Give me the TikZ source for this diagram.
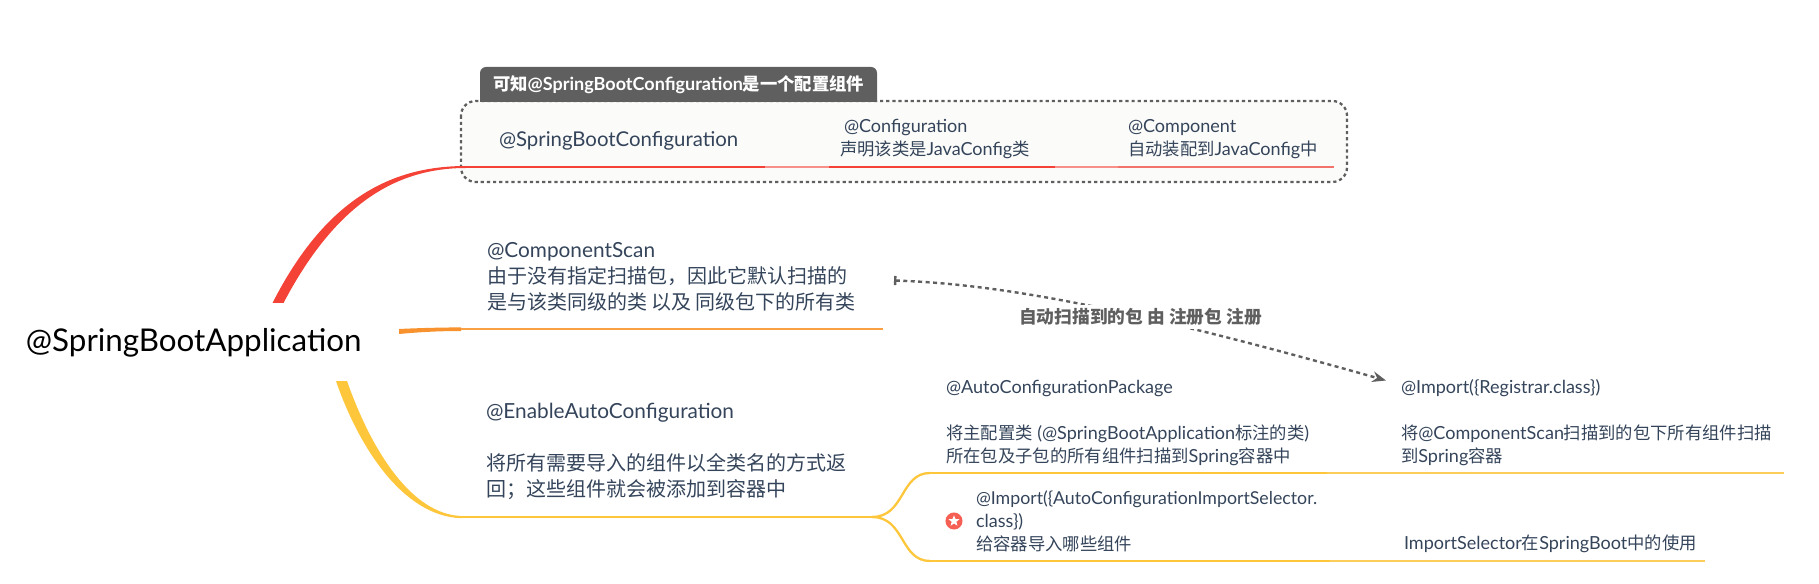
\documentclass[tikz,border=0pt]{standalone}
\usepackage{fontspec}
\usepackage{xcolor}
\setmainfont[Scale=1.04]{Lato}
\newfontfamily\cjk{Noto Sans CJK SC}
\usetikzlibrary{arrows.meta}
\usetikzlibrary{calc}
\usetikzlibrary{shapes.geometric}
\definecolor{topicink}{HTML}{34445A}
\definecolor{tabgrey}{HTML}{5F5F5F}
\definecolor{framefill}{HTML}{FBFBF9}
\definecolor{mapred}{HTML}{F44336}
\definecolor{lightred}{HTML}{F88F88}
\definecolor{thinred}{HTML}{F2736C}
\definecolor{maporange}{HTML}{F8922E}
\definecolor{lightorange}{HTML}{FB9F45}
\definecolor{mapyellow}{HTML}{FDC63B}
\definecolor{lightyellow}{HTML}{FDCD5A}
\tikzset{
  every node/.style = {inner sep=0pt, outer sep=0pt, text=topicink, align=left, anchor=west}
}
\tikzset{
  topic one/.style = {font=\fontsize{15}{19.5}\selectfont},
  topic two/.style = {font=\fontsize{13}{17.25}\selectfont},
  under line/.style = {line width=1.7pt},
  thin line/.style = {line width=1.1pt},
  relation/.style = {draw=tabgrey, line width=1.8pt, dash pattern=on 3pt off 2.6pt}
}
\tikzset{
    >={Stealth[length=3.6mm, width=2.8mm]}
}
\newcommand{\zh}[1]{{\cjk #1}}
\begin{document}
\begin{tikzpicture}[x=0.75pt, y=-0.75pt]
  \useasboundingbox (0,0) rectangle (1819,584);

  \coordinate (redStart) at (278,303);
  \coordinate (redEnd) at (466,167);
  \coordinate (orangeStart) at (399,331.5);
  \coordinate (orangeEnd) at (461,329);
  \coordinate (yellowStart) at (341.5,381);
  \coordinate (yellowEnd) at (461,517);
  \coordinate (forkPoint) at (872,517);
  \coordinate (packEnd) at (930,473);
  \coordinate (importEnd) at (930,561);

  % frame and its tab
  \draw[tabgrey, fill=framefill, line width=1.7pt, dash pattern=on 2.4pt off 2.2pt, rounded corners=11pt]
    (461,101) rectangle (1347,182);
  \fill[tabgrey] (480,102) [rounded corners=4.5pt] -- (480,67) -- (877,67) [sharp corners] -- (877,102) -- cycle;
  \node[text=white, font=\fontsize{13}{15}\selectfont\bfseries] (tabLabel) at (493,85)
    {\zh{可知}@SpringBootConfiguration\zh{是一个配置组件}};

  % main branches
  \fill[mapred] ($(redStart)+(-5.5,0)$) .. controls (325,200) and (390,166) .. ($(redEnd)+(0,-1)$)
    -- ($(redEnd)+(0,1)$) .. controls (395,168) and (335,205) .. ($(redStart)+(5.5,0)$) -- cycle;
  \fill[maporange] ($(orangeStart)+(0,-2.5)$) .. controls (420,328) and (440,327.5) .. ($(orangeEnd)+(0,-1.6)$)
    -- ($(orangeEnd)+(0,2)$) .. controls (440,331) and (420,332) .. ($(orangeStart)+(0,2.5)$) -- cycle;
  \fill[mapyellow] ($(yellowStart)+(-5.5,0)$) .. controls (358,445) and (402,516) .. ($(yellowEnd)+(0,1.2)$)
    -- ($(yellowEnd)+(0,-1)$) .. controls (412,514) and (372,452) .. ($(yellowStart)+(5.5,0)$) -- cycle;

  % lines under the topics
  \draw[under line, mapred] (redEnd) -- (765,167);
  \draw[under line, lightred] (765,167) -- (829,167);
  \draw[under line, mapred] (829,167) -- (1055,167);
  \draw[under line, lightred] (1055,167) -- (1118,167);
  \draw[thin line, thinred] (1118,167) -- (1334,167);
  \draw[under line, lightorange] (orangeEnd) -- (883,329);
  \draw[under line, mapyellow] (yellowEnd) -- (forkPoint);
  \draw[under line, mapyellow] (forkPoint) .. controls (905,517) and (900,473) .. (packEnd);
  \draw[under line, mapyellow] (forkPoint) .. controls (905,517) and (900,561) .. (importEnd);
  \draw[under line, mapyellow] (packEnd) -- (1327,473);
  \draw[thin line, lightyellow] (1327,473) -- (1784,473);
  \draw[under line, mapyellow] (importEnd) -- (1330,561);
  \draw[thin line, lightyellow] (1330,561) -- (1705,561);

  % texts
  \node[text=black, font=\fontsize{22.6}{26}\selectfont] (rootTopic) at (26,343) {@SpringBootApplication};

  \node[font=\fontsize{14.7}{17}\selectfont] (bootConf) at (499,141) {@SpringBootConfiguration};
  \node[topic two] (confTopic) at (840,139)
    {\hspace*{3pt}@Configuration\\\zh{声明该类是}JavaConfig\zh{类}};
  \node[topic two] (compTopic) at (1128,139)
    {@Component\\\zh{自动装配到}JavaConfig\zh{中}};
  \node[topic one] (scanTopic) at (487,277)
    {@ComponentScan\\\zh{由于没有指定扫描包，因此它默认扫描的}\\\zh{是与该类同级的类 以及 同级包下的所有类}};
  \node[topic one] (enableTopic) at (486,451)
    {@EnableAutoConfiguration\\[19.5pt]\zh{将所有需要导入的组件以全类名的方式返}\\\zh{回；这些组件就会被添加到容器中}};
  \node[topic two] (packTopic) at (946,423)
    {@AutoConfigurationPackage\\[17.25pt]\zh{将主配置类} (@SpringBootApplication\zh{标注的类})\\\zh{所在包及子包的所有组件扫描到}Spring\zh{容器中}};
  \node[topic two] (registrarTopic) at (1401,423)
    {@Import(\{Registrar.class\})\\[17.25pt]\zh{将}@ComponentScan\zh{扫描到的包下所有组件扫描}\\\zh{到}Spring\zh{容器}};
  \node[topic two] (selectorTopic) at (976,521)
    {{\fontsize{12.8}{17.25}\selectfont @Import(\{AutoConfigurationImportSelector.}\\class\})\\\zh{给容器导入哪些组件}};
  \node[topic two] (useTopic) at (1404,544) {ImportSelector\zh{在}SpringBoot\zh{中的使用}};

  % star mark
  \node[circle, fill=mapred!85!white, minimum size=12.8pt, anchor=center] (starMark) at (954,521) {};
  \node[star, star points=5, star point ratio=2.3, fill=white, minimum size=8.6pt, anchor=center] (starShape) at (954,521) {};

  % relation
  \coordinate (relationStart) at (894,280.5);
  \coordinate (relationEnd) at (1386,380.5);
  \draw[relation, {Bar[width=2.4mm, length=1.5pt]}-{Stealth[length=3.6mm, width=2.8mm]}]
    (relationStart) .. controls (1000,284) and (1130,308) .. (relationEnd)
    node[pos=0.615, anchor=center, fill=white, text=tabgrey, minimum height=18pt, inner xsep=2pt,
      font=\fontsize{13.3}{15}\selectfont\bfseries] (relationLabel)
    {\zh{自动扫描到的包 由 注册包 注册}};
\end{tikzpicture}
\end{document}
